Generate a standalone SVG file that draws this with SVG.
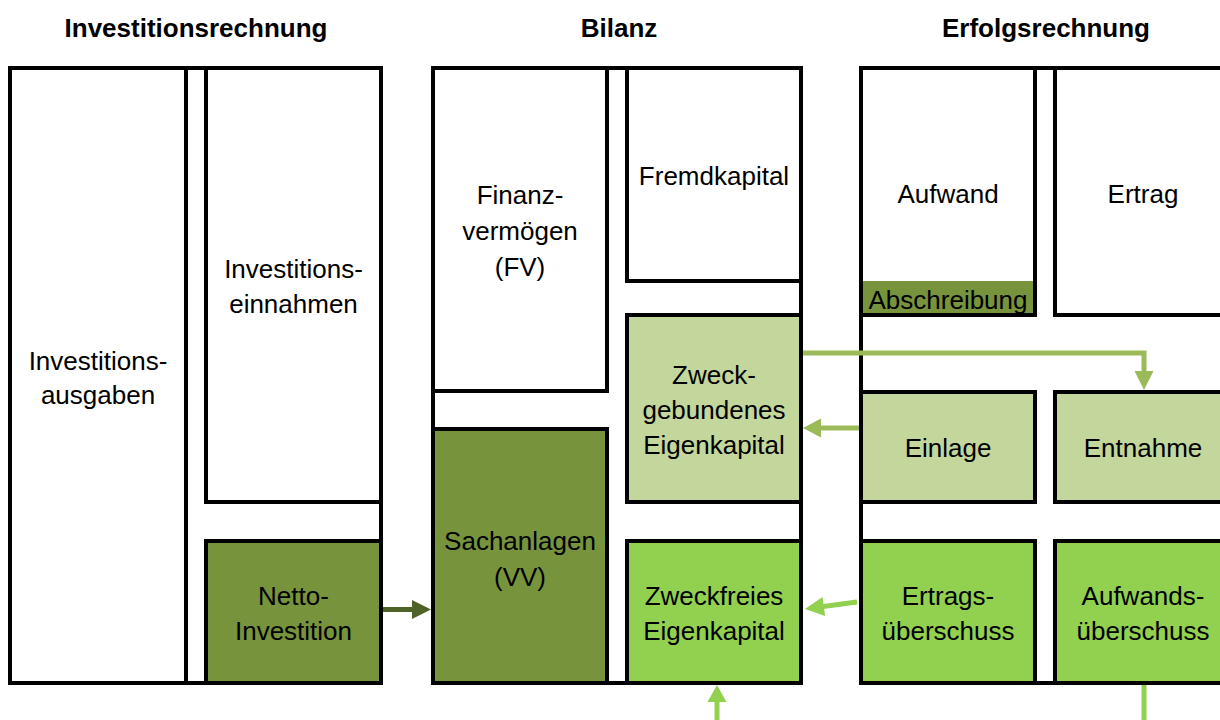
<svg xmlns="http://www.w3.org/2000/svg" width="1220" height="720" viewBox="0 0 1220 720">
<style>
.frame{fill:none;stroke:#000;stroke-width:4}
.box{fill:#fff;stroke:#000;stroke-width:4}
.dk{fill:#77933C}
.lt{fill:#C3D69B}
.br{fill:#92D050}
text{font-family:"Liberation Sans",Arial,sans-serif;font-size:26px;fill:#000;text-anchor:middle}
.title{font-weight:bold}
.c1{stroke:#4F6228;stroke-width:5;fill:none}
.c2{stroke:#9BBB59;stroke-width:5;fill:none}
.c3{stroke:#92D050;stroke-width:5;fill:none}
</style>
<rect width="1220" height="720" fill="#fff"/>
<g id="titles">
<text class="title" x="196" y="37">Investitionsrechnung</text>
<text class="title" x="619" y="37">Bilanz</text>
<text class="title" x="1046" y="37">Erfolgsrechnung</text>
</g>
<g id="investitionsrechnung">
<rect class="frame" x="10" y="68" width="371" height="615"/>
<g id="investitionsausgaben">
<rect class="box" x="10" y="68" width="176" height="615"/>
<text x="98" y="370">Investitions-</text>
<text x="98" y="404">ausgaben</text>
</g>
<g id="investitionseinnahmen">
<rect class="box" x="206" y="68" width="175" height="434"/>
<text x="293.5" y="278">Investitions-</text>
<text x="293.5" y="313">einnahmen</text>
</g>
<g id="nettoinvestition">
<rect class="box dk" x="206" y="541" width="175" height="142"/>
<text x="293.5" y="605">Netto-</text>
<text x="293.5" y="640">Investition</text>
</g>
</g>
<g id="bilanz">
<rect class="frame" x="433" y="68" width="368" height="615"/>
<g id="finanzvermoegen">
<rect class="box" x="433" y="68" width="174" height="323"/>
<text x="520" y="204">Finanz-</text>
<text x="520" y="240">vermögen</text>
<text x="520" y="276">(FV)</text>
</g>
<g id="fremdkapital">
<rect class="box" x="627" y="68" width="174" height="213"/>
<text x="714" y="185">Fremdkapital</text>
</g>
<g id="zweckgebundenes">
<rect class="box lt" x="627" y="315" width="174" height="187"/>
<text x="714" y="384">Zweck-</text>
<text x="714" y="419">gebundenes</text>
<text x="714" y="454">Eigenkapital</text>
</g>
<g id="sachanlagen">
<rect class="box dk" x="433" y="429" width="174" height="254"/>
<text x="520" y="550">Sachanlagen</text>
<text x="520" y="586">(VV)</text>
</g>
<g id="zweckfreies">
<rect class="box br" x="627" y="541" width="174" height="142"/>
<text x="714" y="605">Zweckfreies</text>
<text x="714" y="640">Eigenkapital</text>
</g>
</g>
<g id="erfolgsrechnung">
<rect class="frame" x="861" y="68" width="370" height="615"/>
<g id="aufwand">
<rect class="box" x="861" y="68" width="174" height="247"/>
<rect class="dk" x="863" y="281" width="170" height="32"/>
<text x="948" y="203">Aufwand</text>
<text x="948" y="309">Abschreibung</text>
</g>
<g id="ertrag">
<rect class="box" x="1055" y="68" width="176" height="247"/>
<text x="1143" y="203">Ertrag</text>
</g>
<g id="einlage">
<rect class="box lt" x="861" y="392" width="174" height="110"/>
<text x="948" y="457">Einlage</text>
</g>
<g id="entnahme">
<rect class="box lt" x="1055" y="392" width="176" height="110"/>
<text x="1143" y="457">Entnahme</text>
</g>
<g id="ertragsueberschuss">
<rect class="box br" x="861" y="541" width="174" height="142"/>
<text x="948" y="605">Ertrags-</text>
<text x="948" y="640">überschuss</text>
</g>
<g id="aufwandsueberschuss">
<rect class="box br" x="1055" y="541" width="176" height="142"/>
<text x="1143" y="605">Aufwands-</text>
<text x="1143" y="640">überschuss</text>
</g>
</g>
<g id="connectors">
<line class="c1" x1="383" y1="609.5" x2="413" y2="609.5"/>
<polygon fill="#4F6228" points="412,600 431,609.5 412,619"/>
<polyline class="c2" points="803,353 1144,353 1144,372"/>
<polygon fill="#9BBB59" points="1134.5,371 1144,390 1153.5,371"/>
<line class="c2" x1="859" y1="428" x2="820" y2="428"/>
<polygon fill="#9BBB59" points="821,418.5 803,428 821,437.5"/>
<line class="c3" x1="857" y1="602" x2="823" y2="606.5"/>
<polygon fill="#92D050" points="822.5,597.1 805,609 825.1,615.9"/>
<line class="c3" x1="717" y1="720" x2="717" y2="701"/>
<polygon fill="#92D050" points="707.5,702 717,685 726.5,702"/>
<line class="c3" x1="1144" y1="685" x2="1144" y2="720"/>
</g>
</svg>
